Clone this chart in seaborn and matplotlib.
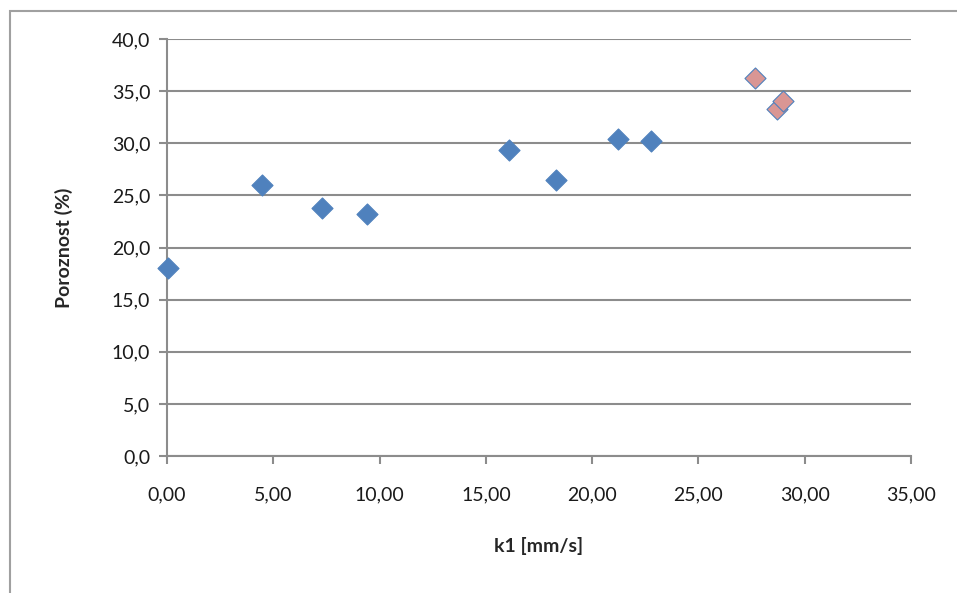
import matplotlib
matplotlib.use("Agg")
import matplotlib.pyplot as plt
import matplotlib.patches as mpatches
import seaborn as sns
import pandas as pd
from matplotlib.ticker import FuncFormatter, MultipleLocator

k1_blue = [0.05, 4.47, 7.29, 9.41, 16.09, 18.30, 21.20, 22.77]
por_blue = [18.0, 26.0, 23.8, 23.2, 29.4, 26.5, 30.4, 30.2]
k1_pink = [27.66, 28.70, 28.97]
por_pink = [36.3, 33.3, 34.1]

sns.set_theme(style="white")
plt.rcParams['font.family'] = ['Lato', 'DejaVu Sans']

df_b = pd.DataFrame({"k1": k1_blue, "por": por_blue})
df_p = pd.DataFrame({"k1": k1_pink, "por": por_pink})

fig = plt.figure(figsize=(9.57, 5.93), dpi=100)
ax = fig.add_axes([167/957, 1-456/593, (911-167)/957, (456-39)/593])

fig.patches.append(mpatches.Rectangle((10/957, -0.1), 2, 1.1 - 11/593,
                                      transform=fig.transFigure, fill=False,
                                      edgecolor="#a0a0a0", linewidth=1.5))

sns.scatterplot(data=df_b, x="k1", y="por", ax=ax, marker="D", s=115,
                color="#4F81BD", edgecolor="#4F81BD", linewidth=0.8, zorder=3, clip_on=False)
sns.scatterplot(data=df_p, x="k1", y="por", ax=ax, marker="D", s=115,
                color="#D99694", edgecolor="#4F81BD", linewidth=0.8, zorder=3, clip_on=False)

ax.set_xlim(0, 35)
ax.set_ylim(0, 40)
ax.xaxis.set_major_locator(MultipleLocator(5))
ax.yaxis.set_major_locator(MultipleLocator(5))
ax.xaxis.set_major_formatter(FuncFormatter(lambda v, p: f"{v:.2f}".replace(".", ",")))
ax.yaxis.set_major_formatter(FuncFormatter(lambda v, p: f"{v:.1f}".replace(".", ",")))
ax.grid(axis="y", color="#8c8c8c", linewidth=1.5)
ax.set_axisbelow(True)
for s in ["top", "right"]:
    ax.spines[s].set_visible(False)
for s in ["left", "bottom"]:
    ax.spines[s].set_color("#8c8c8c")
    ax.spines[s].set_linewidth(1.5)
ax.tick_params(axis="both", direction="out", length=6, width=1.5, color="#8c8c8c",
               labelsize=14, labelcolor="#1a1a1a", left=True, bottom=True)
ax.tick_params(axis="y", pad=6)
ax.tick_params(axis="x", pad=16)
ax.set_xlabel("k1 [mm/s]", fontsize=14, fontweight="bold", labelpad=24)
ax.set_ylabel("Poroznost (%)", fontsize=14, fontweight="bold", labelpad=28)

fig.savefig("out.png", dpi=100)
